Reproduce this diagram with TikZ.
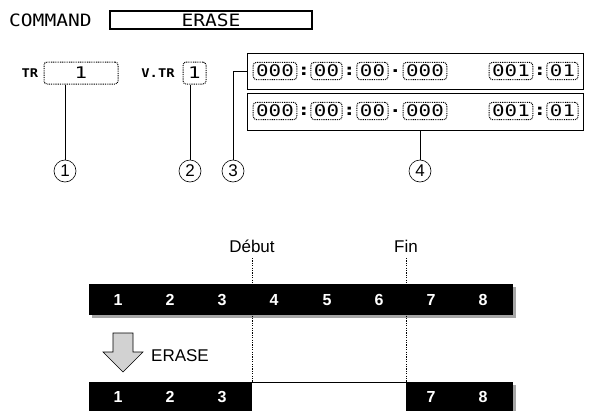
\documentclass[tikz,border=0pt]{standalone}
\usepackage{fontspec}
\setmainfont{Liberation Sans}
\newfontfamily\lcd[FakeStretch=1.3]{DejaVu Sans Mono}
\newfontfamily\lcdw[FakeStretch=1.15]{DejaVu Sans Mono}
\begin{document}
\begin{tikzpicture}[x=1pt,y=-1pt,
  lcdfont/.style={font=\lcd\fontsize{16}{16}\selectfont},
  lcdbox/.style={draw, dash pattern=on 0.9pt off 0.9pt, line width=1pt, rounded corners=3pt, inner xsep=3pt, inner ysep=2.5pt, lcdfont},
  sep/.style={font=\lcd\bfseries\fontsize{16}{16}\selectfont, inner sep=0pt},
  callout/.style={circle, draw, line width=0.6pt, minimum size=22pt, inner sep=0pt, font=\fontsize{17}{17}\selectfont},
  barnum/.style={text=white, font=\bfseries\fontsize{16}{16}\selectfont, inner sep=0pt},
  lbl/.style={font=\fontsize{17}{17}\selectfont, inner sep=0pt},
  cut/.style={dash pattern=on 1.2pt off 1.2pt, line width=0.7pt},
  conn/.style={line width=0.6pt}
]
\useasboundingbox (0,0) rectangle (589,410);

% COMMAND line
\node[anchor=west, inner sep=0pt, font=\lcdw\fontsize{17}{17}\selectfont] (cmd) at (9,20) {COMMAND};
\node[draw, line width=1.2pt, minimum width=202pt, minimum height=18pt, inner sep=0pt, font=\lcdw\fontsize{17}{17}\selectfont] (cmdbox) at (211,20) {ERASE};
\draw[line width=1.2pt] ([xshift=1.2pt,yshift=-1.2pt]cmdbox.north west) -- ([xshift=1.2pt,yshift=1.2pt]cmdbox.south west) -- ([xshift=-1.2pt,yshift=1.2pt]cmdbox.south east);

% TR and V.TR
\node[inner sep=0pt, font=\lcdw\bfseries\fontsize{12}{12}\selectfont] (trl) at (30,73) {TR};
\node[lcdbox, minimum width=74pt, minimum height=22pt] (trbox) at (81,73) {1};
\node[inner sep=0pt, font=\lcdw\bfseries\fontsize{12}{12}\selectfont] (vtrl) at (158,73) {V.TR};
\node[lcdbox, minimum width=23pt, minimum height=22pt, inner xsep=1pt] (vtrbox) at (194.5,73) {1};

% time displays
\node[draw, line width=0.8pt, minimum width=336pt, minimum height=36pt, anchor=north west] (tb1) at (247,53) {};
\node[draw, line width=0.8pt, minimum width=336pt, minimum height=37pt, anchor=north west] (tb2) at (247,93) {};

\foreach \r/\y in {a/71,b/111}{
  \node[lcdbox] (\r1) at (275,\y) {000};
  \node[sep] (\r s1) at (304,\y) {:};
  \node[lcdbox] (\r2) at (326.5,\y) {00};
  \node[sep] (\r s2) at (349.5,\y) {:};
  \node[lcdbox] (\r3) at (372.5,\y) {00};
  \node[sep] (\r s3) at (395.5,\y) {.};
  \node[lcdbox] (\r4) at (425,\y) {000};
  \node[lcdbox] (\r5) at (511,\y) {001};
  \node[sep] (\r s4) at (540,\y) {:};
  \node[lcdbox] (\r6) at (562.5,\y) {01};
}

% callouts
\node[callout] (c1) at (65,171) {1};
\node[callout] (c2) at (190,171) {2};
\node[callout] (c3) at (233,171) {3};
\node[callout] (c4) at (420,171) {4};
\draw[conn] (trbox.south -| c1.north) -- (c1.north);
\draw[conn] (vtrbox.south -| c2.north) -- (c2.north);
\draw[conn] (c3.north) |- (tb1.west);
\draw[conn] (tb2.south -| c4.north) -- (c4.north);

% bottom part
\node[lbl] (deb) at (252,246) {Début};
\node[lbl] (fin) at (406,246) {Fin};

% bar 1
\fill[gray!70] (92,287) rectangle (516,318);
\fill[black] (89,284) rectangle (513,315);
\foreach \i/\x in {1/118,2/170,3/222,4/274,5/327,6/379,7/431,8/483}
  \node[barnum] (n\i) at (\x,300) {\i};

% bar 2
\fill[gray!70] (92,385) rectangle (516,412);
\fill[white] (252,382) rectangle (406,412);
\draw[line width=0.7pt] (252,382) -- (406,382);
\fill[black] (89,382) rectangle (252,412);
\fill[black] (406,382) rectangle (513,412);
\foreach \i/\x in {1/118,2/170,3/222,7/431,8/483}
  \node[barnum] (m\i) at (\x,397) {\i};

% cut lines
\coordinate (d1) at (252,382);
\coordinate (f1) at (406,382);
\draw[cut] (deb.south |- 0,258) -- (d1);
\draw[cut] (fin.south |- 0,258) -- (f1);

% arrow
\draw[fill=gray!35, line width=0.6pt] (113,333) -- (133,333) -- (133,352) -- (143,352) -- (123,372) -- (103,352) -- (113,352) -- cycle;
\node[lbl, anchor=west] (er) at (151,356) {ERASE};
\end{tikzpicture}
\end{document}
